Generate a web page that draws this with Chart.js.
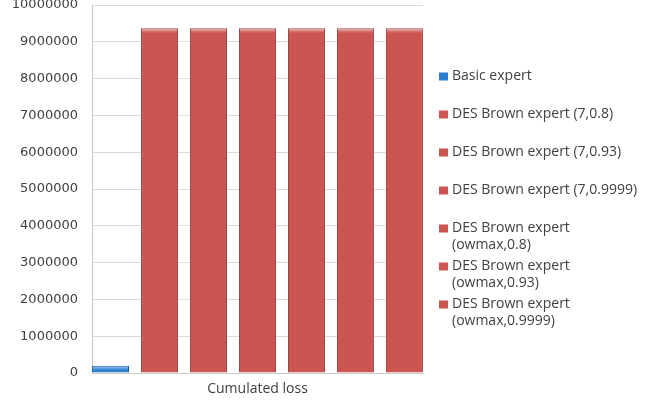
<!DOCTYPE html>
<html>
<head>
<meta charset="utf-8">
<script src="https://cdn.jsdelivr.net/npm/chart.js@4/dist/chart.umd.min.js"></script>
<style>
  html, body { margin: 0; padding: 0; background: #fff; }
  #wrap { width: 660px; height: 405px; position: relative; }
</style>
</head>
<body>
<div id="wrap"><canvas id="c" width="660" height="405"></canvas></div>
<script>
// Cumulated loss per expert
const categories = ['Cumulated loss'];
const seriesNames = [
  'Basic expert',
  'DES Brown expert (7,0.8)',
  'DES Brown expert (7,0.93)',
  'DES Brown expert (7,0.9999)',
  'DES Brown expert (owmax,0.8)',
  'DES Brown expert (owmax,0.93)',
  'DES Brown expert (owmax,0.9999)'
];
const seriesValues = [200000, 9370000, 9370000, 9370000, 9370000, 9370000, 9370000];
const yTicks = [0, 1000000, 2000000, 3000000, 4000000, 5000000, 6000000, 7000000, 8000000, 9000000, 10000000];

const BLUE = '#2a7fd3', BLUE_EDGE = '#1b5c9c';
const RED = '#cc5451', RED_EDGE = '#9b4a47';

const datasets = seriesNames.map((name, i) => ({
  label: name,
  data: [seriesValues[i]],
  backgroundColor: i === 0 ? BLUE : RED,
  borderColor: i === 0 ? BLUE_EDGE : RED_EDGE,
  borderWidth: 1,
  borderSkipped: 'bottom'
}));

// Light sheen along the top of each bar
const barSheen = {
  id: 'barSheen',
  afterDatasetsDraw(chart) {
    const ctx = chart.ctx;
    ctx.save();
    chart.data.datasets.forEach((ds, i) => {
      chart.getDatasetMeta(i).data.forEach(bar => {
        const p = bar.getProps(['x', 'y', 'width', 'base'], true);
        const h = Math.min(4, p.base - p.y - 1);
        if (h <= 0) return;
        const g = ctx.createLinearGradient(0, p.y + 1, 0, p.y + 1 + h);
        g.addColorStop(0, 'rgba(255,255,255,0.45)');
        g.addColorStop(1, 'rgba(255,255,255,0)');
        ctx.fillStyle = g;
        ctx.fillRect(p.x - p.width / 2 + 1, p.y + 1, p.width - 2, h);
      });
    });
    ctx.restore();
  }
};

// Legend drawn at the right, one entry per stride, long names wrapped
const sideLegend = {
  id: 'sideLegend',
  afterDraw(chart) {
    const ctx = chart.ctx;
    ctx.save();
    ctx.font = '14px "Open Sans"';
    ctx.textBaseline = 'middle';
    const maxW = 192;
    chart.data.datasets.forEach((ds, i) => {
      const y0 = 76.5 + i * 38;
      const words = ds.label.split(' ');
      const lines = [];
      let cur = '';
      words.forEach(w => {
        const t = cur ? cur + ' ' + w : w;
        if (ctx.measureText(t).width > maxW && cur) { lines.push(cur); cur = w; }
        else cur = t;
      });
      lines.push(cur);
      ctx.fillStyle = ds.backgroundColor;
      ctx.fillRect(439, y0 - 4, 9, 8);
      ctx.fillStyle = '#404040';
      lines.forEach((ln, k) => ctx.fillText(ln, 452, y0 + k * 16.5));
    });
    ctx.restore();
  }
};

new Chart(document.getElementById('c'), {
  type: 'bar',
  data: { labels: categories, datasets },
  options: {
    responsive: false,
    animation: false,
    layout: { padding: { top: 5, right: 237, left: 0, bottom: 0 } },
    datasets: { bar: { categoryPercentage: 1.036, barPercentage: 0.755 } },
    plugins: { legend: { display: false }, tooltip: { enabled: false } },
    scales: {
      x: {
        grid: { display: false, drawTicks: false },
        border: { color: '#c8c8c8' },
        ticks: { color: '#404040', font: { family: 'Open Sans', size: 14 }, padding: 8 },
        afterFit(s) { s.height = 32; s.paddingLeft = 0; s.paddingRight = 0; }
      },
      y: {
        min: 0, max: 10000000,
        afterBuildTicks(s) { s.ticks = yTicks.map(v => ({ value: v })); },
        grid: { color: '#dadada', drawTicks: false },
        border: { color: '#c8c8c8' },
        ticks: { color: '#404040', font: { family: 'DejaVu Sans', size: 13 }, padding: 14,
                 callback: v => String(v) },
        afterFit(s) { s.width = 92; s.paddingTop = 0; s.paddingBottom = 0; }
      }
    }
  },
  plugins: [barSheen, sideLegend]
});
</script>
</body>
</html>
